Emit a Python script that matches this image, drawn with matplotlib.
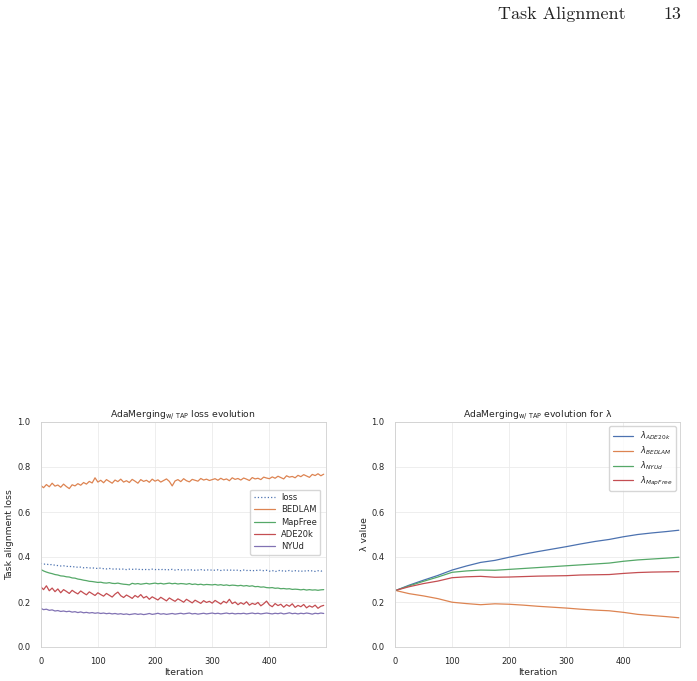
import numpy as np
import matplotlib
matplotlib.use("Agg")
import matplotlib.pyplot as plt
import seaborn as sns

## loss curves, one value every 5 iterations
iters = np.arange(0, 500, 5)

loss = [0.372, 0.368, 0.369, 0.365, 0.367, 0.363, 0.362, 0.360, 0.361, 0.358,
        0.359, 0.356, 0.357, 0.354, 0.355, 0.352, 0.353, 0.351, 0.352, 0.350,
        0.349, 0.351, 0.348, 0.347, 0.349, 0.346, 0.348, 0.345, 0.347, 0.346,
        0.344, 0.346, 0.345, 0.347, 0.344, 0.346, 0.343, 0.345, 0.344, 0.346,
        0.344, 0.345, 0.343, 0.346, 0.342, 0.344, 0.345, 0.342, 0.344, 0.343,
        0.341, 0.344, 0.342, 0.343, 0.341, 0.342, 0.344, 0.341, 0.343, 0.342,
        0.342, 0.341, 0.343, 0.340, 0.342, 0.341, 0.343, 0.340, 0.342, 0.341,
        0.339, 0.342, 0.340, 0.341, 0.338, 0.341, 0.340, 0.342, 0.339, 0.341,
        0.337, 0.340, 0.335, 0.339, 0.341, 0.336, 0.338, 0.340, 0.337, 0.339,
        0.338, 0.336, 0.339, 0.337, 0.340, 0.338, 0.336, 0.339, 0.337, 0.340]

bedlam = [0.718, 0.708, 0.722, 0.712, 0.728, 0.715, 0.720, 0.710, 0.724, 0.713,
          0.704, 0.721, 0.716, 0.726, 0.719, 0.731, 0.724, 0.736, 0.729, 0.752,
          0.733, 0.741, 0.730, 0.744, 0.736, 0.728, 0.742, 0.735, 0.746, 0.733,
          0.739, 0.731, 0.745, 0.737, 0.728, 0.744, 0.736, 0.741, 0.732, 0.746,
          0.737, 0.743, 0.733, 0.740, 0.747, 0.736, 0.716, 0.738, 0.744, 0.735,
          0.748, 0.739, 0.734, 0.745, 0.741, 0.737, 0.749, 0.742, 0.746, 0.740,
          0.744, 0.748, 0.741, 0.750, 0.743, 0.747, 0.739, 0.752, 0.745, 0.749,
          0.742, 0.751, 0.746, 0.740, 0.753, 0.747, 0.750, 0.744, 0.755, 0.751,
          0.748, 0.756, 0.750, 0.759, 0.753, 0.747, 0.761, 0.755, 0.758, 0.752,
          0.763, 0.757, 0.766, 0.760, 0.754, 0.767, 0.762, 0.770, 0.761, 0.768]

mapfree = [0.345, 0.338, 0.333, 0.329, 0.326, 0.322, 0.320, 0.316, 0.315, 0.312,
           0.311, 0.307, 0.306, 0.302, 0.300, 0.297, 0.295, 0.292, 0.291, 0.289,
           0.287, 0.288, 0.285, 0.284, 0.286, 0.283, 0.282, 0.284, 0.281, 0.279,
           0.278, 0.276, 0.283, 0.280, 0.282, 0.279, 0.281, 0.283, 0.280, 0.282,
           0.284, 0.281, 0.283, 0.280, 0.282, 0.284, 0.281, 0.283, 0.280, 0.282,
           0.281, 0.279, 0.282, 0.278, 0.280, 0.277, 0.279, 0.276, 0.278, 0.277,
           0.276, 0.278, 0.275, 0.277, 0.274, 0.276, 0.273, 0.275, 0.274, 0.272,
           0.274, 0.271, 0.273, 0.270, 0.272, 0.268, 0.269, 0.266, 0.267, 0.264,
           0.263, 0.264, 0.261, 0.262, 0.259, 0.260, 0.258, 0.259, 0.256, 0.257,
           0.256, 0.254, 0.256, 0.253, 0.255, 0.253, 0.254, 0.252, 0.254, 0.255]

ade20k = [0.268, 0.255, 0.272, 0.250, 0.262, 0.246, 0.258, 0.241, 0.255, 0.247,
          0.238, 0.252, 0.243, 0.236, 0.249, 0.240, 0.232, 0.245, 0.237, 0.229,
          0.241, 0.233, 0.226, 0.238, 0.230, 0.222, 0.235, 0.244, 0.228, 0.220,
          0.231, 0.224, 0.216, 0.229, 0.221, 0.233, 0.218, 0.225, 0.212, 0.223,
          0.216, 0.209, 0.221, 0.213, 0.205, 0.218, 0.210, 0.203, 0.214, 0.207,
          0.199, 0.212, 0.204, 0.196, 0.208, 0.201, 0.194, 0.206, 0.198, 0.203,
          0.195, 0.207, 0.199, 0.191, 0.203, 0.196, 0.212, 0.193, 0.200, 0.188,
          0.197, 0.190, 0.201, 0.186, 0.194, 0.189, 0.198, 0.183, 0.192, 0.204,
          0.187, 0.179, 0.193, 0.184, 0.190, 0.177, 0.188, 0.181, 0.192, 0.176,
          0.185, 0.179, 0.189, 0.174, 0.183, 0.177, 0.186, 0.172, 0.181, 0.185]

nyud = [0.172, 0.166, 0.168, 0.163, 0.165, 0.160, 0.162, 0.158, 0.160, 0.157,
        0.159, 0.155, 0.157, 0.153, 0.156, 0.152, 0.154, 0.151, 0.153, 0.150,
        0.152, 0.149, 0.151, 0.148, 0.150, 0.147, 0.149, 0.146, 0.148, 0.145,
        0.147, 0.144, 0.146, 0.148, 0.145, 0.147, 0.144, 0.146, 0.149, 0.145,
        0.147, 0.150, 0.146, 0.148, 0.145, 0.147, 0.149, 0.146, 0.148, 0.150,
        0.147, 0.149, 0.151, 0.147, 0.149, 0.146, 0.148, 0.150, 0.147, 0.149,
        0.151, 0.148, 0.150, 0.147, 0.149, 0.151, 0.148, 0.150, 0.147, 0.149,
        0.148, 0.150, 0.147, 0.149, 0.151, 0.148, 0.150, 0.147, 0.149, 0.151,
        0.149, 0.147, 0.150, 0.148, 0.151, 0.147, 0.149, 0.152, 0.148, 0.150,
        0.147, 0.150, 0.148, 0.151, 0.149, 0.146, 0.150, 0.148, 0.151, 0.149]

## lambda values
lam_iters = [3, 25, 50, 75, 100, 125, 150, 175, 200, 225, 250,
             275, 300, 325, 350, 375, 400, 425, 450, 475, 497]
lam_ade20k = [0.253, 0.275, 0.297, 0.318, 0.342, 0.360, 0.376, 0.385, 0.399, 0.412, 0.424,
              0.435, 0.446, 0.458, 0.469, 0.478, 0.490, 0.500, 0.507, 0.513, 0.519]
lam_bedlam = [0.250, 0.237, 0.227, 0.215, 0.199, 0.193, 0.188, 0.192, 0.190, 0.186, 0.181,
              0.177, 0.173, 0.168, 0.164, 0.161, 0.154, 0.145, 0.140, 0.135, 0.130]
lam_nyud = [0.253, 0.272, 0.292, 0.311, 0.332, 0.338, 0.342, 0.341, 0.345, 0.349, 0.353,
            0.357, 0.361, 0.365, 0.369, 0.373, 0.381, 0.387, 0.391, 0.395, 0.399]
lam_mapfree = [0.253, 0.268, 0.282, 0.293, 0.308, 0.312, 0.314, 0.310, 0.311, 0.313, 0.315,
               0.316, 0.317, 0.320, 0.321, 0.322, 0.327, 0.331, 0.333, 0.334, 0.335]

sns.set_theme(style="whitegrid")
plt.rcParams['font.family'] = ['DejaVu Sans']
plt.rcParams['mathtext.fontset'] = 'dejavusans'
pal = sns.color_palette()  # deep palette

W, H = 697, 681
fig = plt.figure(figsize=(W / 100, H / 100), dpi=100)

fs_tick = 6.0
fs_lab = 6.7
lw = 0.9

ax1 = fig.add_axes([40.7 / W, 1 - 647 / H, (326 - 40.7) / W, 225 / H])
ax2 = fig.add_axes([395 / W, 1 - 647 / H, (680 - 395) / W, 225 / H])

ax1.plot(iters, loss, ':', color=pal[0], lw=lw, label='loss')
ax1.plot(iters, bedlam, color=pal[1], lw=lw, label='BEDLAM')
ax1.plot(iters, mapfree, color=pal[2], lw=lw, label='MapFree')
ax1.plot(iters, ade20k, color=pal[3], lw=lw, label='ADE20k')
ax1.plot(iters, nyud, color=pal[4], lw=lw, label='NYUd')
ax1.set_title(r'AdaMerging$_{\mathrm{w/\ TAP}}$ loss evolution', fontsize=fs_lab, pad=3)
ax1.set_ylabel('Task alignment loss', fontsize=fs_lab, labelpad=2)
ax1.legend(fontsize=fs_tick, loc='center right', bbox_to_anchor=(0.995, 0.555),
           handlelength=2.5, labelspacing=0.4)

ax2.plot(lam_iters, lam_ade20k, color=pal[0], lw=lw, label=r'$\lambda_{ADE20k}$')
ax2.plot(lam_iters, lam_bedlam, color=pal[1], lw=lw, label=r'$\lambda_{BEDLAM}$')
ax2.plot(lam_iters, lam_nyud, color=pal[2], lw=lw, label=r'$\lambda_{NYUd}$')
ax2.plot(lam_iters, lam_mapfree, color=pal[3], lw=lw, label=r'$\lambda_{MapFree}$')
ax2.set_title(r'AdaMerging$_{\mathrm{w/\ TAP}}$ evolution for λ', fontsize=fs_lab, pad=3)
ax2.set_ylabel('λ value', fontsize=fs_lab, labelpad=2)
ax2.legend(fontsize=fs_tick, loc='upper right', handlelength=2.5, labelspacing=0.3)

for ax in (ax1, ax2):
    ax.set_xlim(0, 499)
    ax.set_ylim(0, 1)
    ax.set_xticks([0, 100, 200, 300, 400])
    ax.set_yticks([0, 0.2, 0.4, 0.6, 0.8, 1.0])
    ax.tick_params(labelsize=fs_tick, pad=1.5)
    ax.set_xlabel('Iteration', fontsize=fs_lab, labelpad=1)
    ax.grid(color='#ebebeb', lw=0.6)
    for s in ax.spines.values():
        s.set_color('#d0d0d0')
        s.set_linewidth(0.6)

# page header
fig.text(498 / W, 1 - 14 / H, 'Task Alignment', family='cmr10', fontsize=13,
         va='center', ha='left', color='#222222')
fig.text(681 / W, 1 - 14 / H, '13', family='cmr10', fontsize=13,
         va='center', ha='right', color='#222222')

fig.savefig('out.png', dpi=100)
